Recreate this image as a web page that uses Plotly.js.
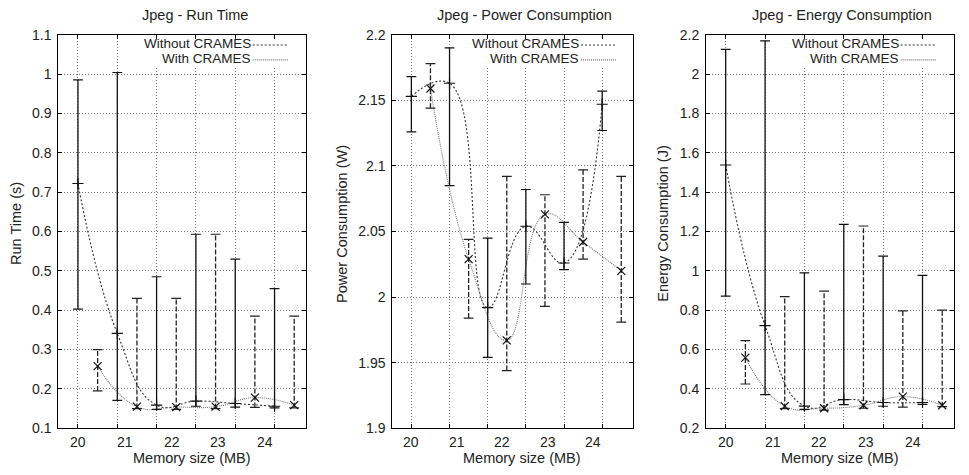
<!DOCTYPE html>
<html>
<head>
<meta charset="utf-8">
<script src="https://cdn.plot.ly/plotly-3.0.1.min.js"></script>
<style>html,body{margin:0;padding:0;background:#fff;}#chart{width:969px;height:475px;}</style>
</head>
<body>
<div id="chart"></div>
<script>
// ---------------- data ----------------
const memLabels = ['20', '21', '22', '23', '24', '32'];
const memIndex = [0, 1, 2, 3, 4, 5];
const seriesNames = ['Without CRAMES', 'With CRAMES'];
const panelTitles = ['Jpeg - Run Time', 'Jpeg - Power Consumption', 'Jpeg - Energy Consumption'];
const yTitles = ['Run Time (s)', 'Power Consumption (W)', 'Energy Consumption (J)'];
const xTitle = 'Memory size (MB)';

// Run time (s)
const rtWithoutMean = [0.722, 0.341, 0.159, 0.169, 0.163, 0.156];
const rtWithoutLow  = [0.403, 0.171, 0.148, 0.156, 0.154, 0.152];
const rtWithoutHigh = [0.985, 1.004, 0.485, 0.593, 0.530, 0.455];
const rtWithMean = [0.258, 0.155, 0.154, 0.155, 0.178, 0.159];
const rtWithLow  = [0.195, 0.150, 0.148, 0.150, 0.153, 0.152];
const rtWithHigh = [0.300, 0.430, 0.430, 0.593, 0.385, 0.385];

// Power (W)
const pwWithoutMean = [2.153, 2.163, 1.992, 2.054, 2.026, 2.147];
const pwWithoutLow  = [2.126, 2.085, 1.954, 2.010, 2.021, 2.127];
const pwWithoutHigh = [2.168, 2.190, 2.045, 2.082, 2.057, 2.157];
const pwWithMean = [2.159, 2.029, 1.967, 2.063, 2.042, 2.020];
const pwWithLow  = [2.144, 1.984, 1.944, 1.993, 2.029, 1.981];
const pwWithHigh = [2.178, 2.044, 2.092, 2.078, 2.097, 2.092];

// Energy (J)
const enWithoutMean = [1.538, 0.722, 0.313, 0.346, 0.331, 0.331];
const enWithoutLow  = [0.872, 0.371, 0.296, 0.320, 0.312, 0.322];
const enWithoutHigh = [2.125, 2.169, 0.990, 1.236, 1.075, 0.977];
const enWithMean = [0.559, 0.313, 0.302, 0.317, 0.361, 0.317];
const enWithLow  = [0.425, 0.300, 0.292, 0.302, 0.308, 0.310];
const enWithHigh = [0.645, 0.869, 0.897, 1.228, 0.797, 0.800];

// ---------------- layout helpers ----------------
const W = 969, H = 475;
const FONT = 'Liberation Sans, Arial, Helvetica, sans-serif';
const TXT = '#222';
const withOffset = 0.5;
const labelStep = 1.19;
const panels = [
  {px: [58.3, 306], yr: [0.1, 1.1], dt: 0.1,
   d: [rtWithoutMean, rtWithoutLow, rtWithoutHigh, rtWithMean, rtWithLow, rtWithHigh]},
  {px: [392.3, 632.7], yr: [1.9, 2.2], dt: 0.05,
   d: [pwWithoutMean, pwWithoutLow, pwWithoutHigh, pwWithMean, pwWithLow, pwWithHigh]},
  {px: [706, 954], yr: [0.2, 2.2], dt: 0.2,
   d: [enWithoutMean, enWithoutLow, enWithoutHigh, enWithMean, enWithLow, enWithHigh]}
];
const yDom = [1 - 428.3 / H, 1 - 34.7 / H];

function segs(xs, lo, hi) {
  const x = [], y = [];
  xs.forEach((v, i) => { x.push(v, v, null); y.push(lo[i], hi[i], null); });
  return {x, y};
}

const traces = [];
const layout = {
  width: W, height: H,
  margin: {l: 0, r: 0, t: 0, b: 0},
  paper_bgcolor: '#fff', plot_bgcolor: '#fff',
  showlegend: false,
  font: {family: FONT, size: 14, color: TXT},
  annotations: [], shapes: []
};

const woDash = '2px,2px', wDash = '1px,1px';

panels.forEach((p, k) => {
  const n = k + 1;
  const xa = 'x' + (n === 1 ? '' : n), ya = 'y' + (n === 1 ? '' : n);
  const xd = xa + ' domain', yd = ya + ' domain';
  const [wMean, wLow, wHigh, cMean, cLow, cHigh] = p.d;
  const xWith = memIndex.map(v => v + withOffset);

  // smooth curves
  traces.push({x: memIndex, y: wMean, xaxis: xa, yaxis: ya, mode: 'lines', hoverinfo: 'skip',
    line: {shape: 'spline', smoothing: 1.3, dash: woDash, color: '#333', width: 1.1}});
  traces.push({x: xWith, y: cMean, xaxis: xa, yaxis: ya, mode: 'lines', hoverinfo: 'skip',
    line: {shape: 'spline', smoothing: 1.3, dash: wDash, color: '#777', width: 1.1}});
  // error bars
  const s1 = segs(memIndex, wLow, wHigh);
  traces.push({x: s1.x, y: s1.y, xaxis: xa, yaxis: ya, mode: 'lines', connectgaps: false,
    line: {color: '#111', width: 1.3}});
  const s2 = segs(xWith, cLow, cHigh);
  traces.push({x: s2.x, y: s2.y, xaxis: xa, yaxis: ya, mode: 'lines', connectgaps: false,
    line: {color: '#222', width: 1.3, dash: '5px,2px'}});
  // caps
  traces.push({x: memIndex.concat(memIndex), y: wLow.concat(wHigh), xaxis: xa, yaxis: ya, mode: 'markers',
    marker: {symbol: 'line-ew', size: 7, line: {color: '#111', width: 1.2}}});
  traces.push({x: xWith.concat(xWith), y: cLow.concat(cHigh), xaxis: xa, yaxis: ya, mode: 'markers',
    marker: {symbol: 'line-ew', size: 7, line: {color: '#222', width: 1.2}}});
  // mean markers
  traces.push({x: memIndex, y: wMean, xaxis: xa, yaxis: ya, mode: 'markers', name: seriesNames[0],
    marker: {symbol: 'cross-thin', size: 8, line: {color: '#111', width: 1.2}}});
  traces.push({x: xWith, y: cMean, xaxis: xa, yaxis: ya, mode: 'markers', name: seriesNames[1],
    marker: {symbol: 'x-thin', size: 8, line: {color: '#111', width: 1.2}}});

  const axCommon = {showline: true, linecolor: '#000', linewidth: 1, mirror: 'allticks',
    ticks: 'inside', ticklen: 4, tickcolor: '#000', tickwidth: 1,
    showgrid: true, gridcolor: '#777', griddash: '1px,2px', gridwidth: 1, zeroline: false};
  layout['xaxis' + (n === 1 ? '' : n)] = Object.assign({}, axCommon, {
    domain: [p.px[0] / W, p.px[1] / W], range: [-0.5, 5.8], anchor: ya,
    tickmode: 'array', tickvals: memIndex, showticklabels: false});
  layout['yaxis' + (n === 1 ? '' : n)] = Object.assign({}, axCommon, {
    domain: yDom, range: p.yr, dtick: p.dt, tick0: p.yr[0], anchor: xa,
    tickfont: {size: 14, color: TXT}, ticklabelstandoff: 3});

  // x tick labels (gnuplot places them on their own spacing)
  memLabels.forEach((t, i) => layout.annotations.push({text: t, xref: xa, yref: yd,
    x: i * labelStep, y: 0, xanchor: 'center', yanchor: 'middle', yshift: -13.5,
    showarrow: false, font: {size: 14, color: TXT}}));
  // titles
  layout.annotations.push({text: panelTitles[k], xref: xd, yref: yd, x: 0.55, y: 1,
    xanchor: 'center', yanchor: 'middle', yshift: 20, showarrow: false, font: {size: 14.5, color: TXT}});
  layout.annotations.push({text: xTitle, xref: xd, yref: yd, x: 0.54, y: 0,
    xanchor: 'center', yanchor: 'middle', yshift: -30, showarrow: false, font: {size: 14.5, color: TXT}});
  layout.annotations.push({text: yTitles[k], xref: xd, yref: yd, x: 0, y: 0.52,
    xanchor: 'center', yanchor: 'middle', xshift: k === 1 ? -51 : -43, textangle: -90,
    showarrow: false, font: {size: 14.5, color: TXT}});

  // key (gnuplot style: text left of sample)
  layout.shapes.push({type: 'rect', xref: xd, yref: yd, x0: 0.33, x1: 0.975, y0: 0.918, y1: 0.99,
    fillcolor: '#fff', line: {width: 0}, layer: 'above'});
  const keyY = [0.978, 0.94];
  const keyStyle = [{dash: woDash, color: '#333'}, {dash: wDash, color: '#777'}];
  seriesNames.forEach((s, i) => {
    layout.annotations.push({text: s, xref: xd, yref: yd, x: 0.782, y: keyY[i],
      xanchor: 'right', yanchor: 'middle', showarrow: false, borderpad: 0,
      font: {size: 13.5, color: TXT}});
    layout.shapes.push({type: 'line', xref: xd, yref: yd, x0: 0.785, x1: 0.93, y0: keyY[i] - 0.004, y1: keyY[i] - 0.004,
      line: {color: keyStyle[i].color, width: 1.1, dash: keyStyle[i].dash}, layer: 'above'});
  });
});

Plotly.newPlot('chart', traces, layout, {staticPlot: true, displayModeBar: false});
</script>
</body>
</html>
